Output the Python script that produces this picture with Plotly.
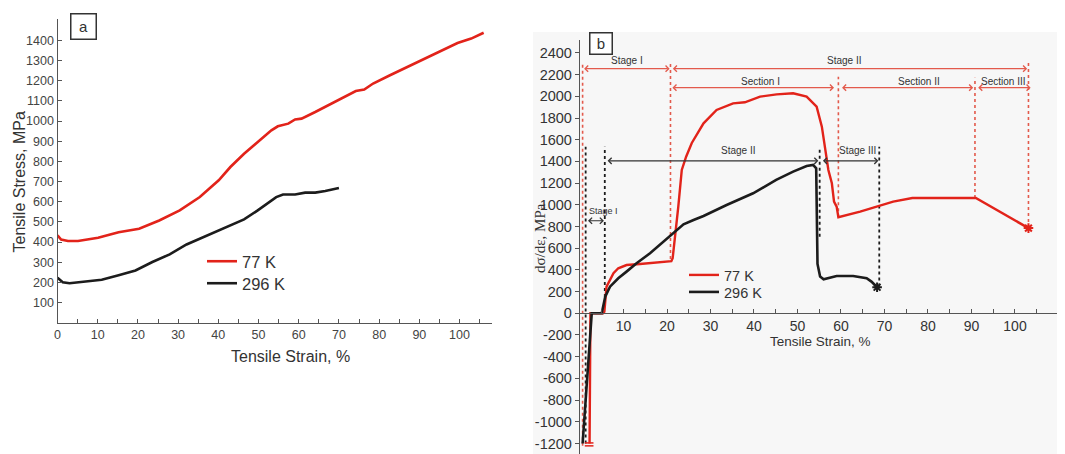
import plotly.graph_objects as go

# ---------------- Panel a: tensile stress vs strain ----------------
a77_x = [0.0, 0.9, 2.6, 5.1, 10.1, 15.2, 20.3, 25.3, 30.4, 35.4, 40.1, 43.0, 46.4, 50.2, 53.2, 54.8,
         57.4, 59.1, 60.7, 64.1, 70.0, 74.2, 76.3, 78.5, 82.7, 86.9, 91.1, 95.3, 99.5, 102.9, 106.0]
a77_y = [433, 412, 405, 405, 421, 449, 466, 507, 557, 623, 706, 772, 838, 904, 954, 974,
         987, 1008, 1012, 1045, 1108, 1149, 1156, 1186, 1227, 1268, 1305, 1346, 1387, 1409, 1438]
a296_x = [0.0, 1.3, 3.0, 6.8, 11.0, 15.2, 19.4, 23.6, 27.9, 32.1, 36.3, 40.5, 43.9, 46.4, 49.8,
          52.3, 54.4, 56.1, 59.1, 61.6, 64.1, 66.6, 70.0]
a296_y = [223, 201, 196, 205, 213, 235, 259, 301, 339, 388, 425, 462, 494, 512, 557,
          595, 623, 636, 636, 645, 645, 653, 668]

# ---------------- Panel b: strain hardening rate ----------------
b77_x = [2.2, 2.4, 5.3, 5.6, 6.1, 7.7, 8.8, 10.7, 13.8, 18.4, 21.0, 21.3, 21.8, 22.6, 23.4, 24.4,
         25.7, 28.4, 31.4, 35.2, 37.9, 41.4, 45.2, 49.0, 52.1, 54.4, 55.6, 56.3, 57.1, 57.9,
         58.4, 59.0, 59.4, 64.4, 72.0, 76.4, 91.0, 103.1]
b77_y = [-1200, 0, 0, 15, 245, 369, 415, 445, 454, 467, 480, 507, 676, 983, 1321, 1443,
         1570, 1751, 1874, 1935, 1945, 1997, 2018, 2028, 1997, 1904, 1720, 1536, 1321, 1198,
         1029, 983, 885, 937, 1029, 1062, 1062, 785]
b296_x = [0.6, 2.7, 5.0, 5.8, 6.9, 8.8, 10.7, 13.0, 16.1, 19.2, 22.2, 23.8, 26.1, 28.4, 33.7,
          39.8, 45.1, 49.0, 52.1, 53.6, 54.3, 54.5, 54.6, 55.2, 56.0, 59.0, 62.8, 65.9, 67.0, 68.3]
b296_y = [-1200, 0, 0, 153, 245, 323, 384, 461, 553, 661, 767, 820, 860, 897, 998,
          1106, 1229, 1306, 1358, 1367, 1337, 830, 455, 338, 313, 344, 344, 323, 292, 240]
cap_x = [1.1, 3.1]
cap_y = [-1195, -1222]

# stage boundaries (dashed verticals)
red_vx = [0.6, 20.8, 59.4, 90.8, 103.1]
red_vtop = [2300, 2320, 2180, 2170, 2320]
red_vbot = [-1220, 500, 885, 1062, 785]
blk_vx = [1.3, 5.7, 55.1, 68.8]
blk_vtop = [1535, 1535, 1535, 1535]
blk_vbot = [-1200, 150, 706, 246]

# double arrows: (start, end, level, label, label_x, label_y)
red_arrows = [
    (0.6, 20.6, 2255, "Stage I", 10.8, 2330),
    (21.0, 102.8, 2255, "Stage II", 60.6, 2330),
    (20.9, 58.4, 2080, "Section I", 41.5, 2135),
    (59.9, 90.4, 2080, "Section II", 78.0, 2135),
    (91.2, 103.6, 2080, "Section III", 97.3, 2140),
]
blk_arrows = [
    (6.0, 54.8, 1405, "Stage II", 36.4, 1496, 10),
    (55.5, 68.6, 1405, "Stage III", 63.8, 1500, 10),
    (1.5, 5.5, 853, "Stage I", 5.4, 940, 9),
]

a_xticks = list(range(0, 101, 10))
a_yticks = list(range(100, 1401, 100))
b_xticks = list(range(10, 111, 10))
b_yticks = list(range(-1200, 2401, 200))
b_yticklabels = [str(v) for v in b_yticks]

RED = "#e2231a"
BLK = "#1c1c1c"
RED_L = "#e35a4c"
FONT = "Liberation Sans, Arial, sans-serif"
OFF = 8            # page body margin of the html page
W, H = 1065 - OFF, 454 - OFF


def px(x):
    return (x - OFF) / W


def py(y):
    return 1 - (y - OFF) / H


fig = go.Figure()

# panel b background
fig.add_shape(type="rect", xref="paper", yref="paper", x0=px(533), x1=1, y0=0, y1=py(32),
              fillcolor="#f7f7f7", line=dict(width=0), layer="below")

# panel a traces
fig.add_trace(go.Scatter(x=a77_x, y=a77_y, mode="lines", name="77 K", line=dict(color=RED, width=2.6),
                         xaxis="x", yaxis="y", legend="legend"))
fig.add_trace(go.Scatter(x=a296_x, y=a296_y, mode="lines", name="296 K", line=dict(color=BLK, width=2.6),
                         xaxis="x", yaxis="y", legend="legend2"))

# panel b dashed verticals
rvx, rvy = [], []
for xv, t, b in zip(red_vx, red_vtop, red_vbot):
    rvx += [xv, xv, None]
    rvy += [b, t, None]
fig.add_trace(go.Scatter(x=rvx, y=rvy, mode="lines", line=dict(color=RED_L, width=1.6, dash="dot"),
                         xaxis="x2", yaxis="y2", showlegend=False, hoverinfo="skip"))
bvx, bvy = [], []
for xv, t, b in zip(blk_vx, blk_vtop, blk_vbot):
    bvx += [xv, xv, None]
    bvy += [b, t, None]
fig.add_trace(go.Scatter(x=bvx, y=bvy, mode="lines", line=dict(color=BLK, width=1.8, dash="dot"),
                         xaxis="x2", yaxis="y2", showlegend=False, hoverinfo="skip"))

# cap at bottom
cx, cy = [], []
for yv in cap_y:
    cx += [cap_x[0], cap_x[1], None]
    cy += [yv, yv, None]
fig.add_trace(go.Scatter(x=cx, y=cy, mode="lines", line=dict(color=RED, width=1.5),
                         xaxis="x2", yaxis="y2", showlegend=False, hoverinfo="skip"))

# panel b curves
fig.add_trace(go.Scatter(x=b77_x, y=b77_y, mode="lines", name="77 K", line=dict(color=RED, width=2.4),
                         xaxis="x2", yaxis="y2", legend="legend3"))
fig.add_trace(go.Scatter(x=b296_x, y=b296_y, mode="lines", name="296 K", line=dict(color=BLK, width=2.6),
                         xaxis="x2", yaxis="y2", legend="legend4"))
fig.add_trace(go.Scatter(x=[b77_x[-1]], y=[b77_y[-1]], mode="markers",
                         marker=dict(symbol="asterisk-open", size=8, color=RED, line=dict(color=RED, width=2)),
                         xaxis="x2", yaxis="y2", showlegend=False, hoverinfo="skip"))
fig.add_trace(go.Scatter(x=[b296_x[-1]], y=[b296_y[-1]], mode="markers",
                         marker=dict(symbol="asterisk-open", size=8, color=BLK, line=dict(color=BLK, width=2)),
                         xaxis="x2", yaxis="y2", showlegend=False, hoverinfo="skip"))

annotations = []
for x0, x1, yv, lab, lx, ly in red_arrows:
    annotations.append(dict(x=x1, y=yv, ax=x0, ay=yv, xref="x2", yref="y2", axref="x2", ayref="y2",
                            text="", showarrow=True, arrowside="end+start", arrowhead=4, startarrowhead=4,
                            arrowsize=1.0, startarrowsize=1.0, arrowwidth=1.2, arrowcolor=RED_L,
                            standoff=0, startstandoff=0))
    annotations.append(dict(x=lx, y=ly, xref="x2", yref="y2", text=lab, showarrow=False,
                            xanchor="center", yanchor="middle",
                            font=dict(size=10, color="#333", family=FONT)))
for x0, x1, yv, lab, lx, ly, fs in blk_arrows:
    annotations.append(dict(x=x1, y=yv, ax=x0, ay=yv, xref="x2", yref="y2", axref="x2", ayref="y2",
                            text="", showarrow=True, arrowside="end+start", arrowhead=4, startarrowhead=4,
                            arrowsize=1.0, startarrowsize=1.0, arrowwidth=1.2, arrowcolor="#333",
                            standoff=0, startstandoff=0))
    annotations.append(dict(x=lx, y=ly, xref="x2", yref="y2", text=lab, showarrow=False,
                            xanchor="center", yanchor="middle",
                            font=dict(size=fs, color="#333", family=FONT)))

# axis titles and panel tags
annotations += [
    dict(x=px(290), y=py(356), text="Tensile Strain, %",
         font=dict(size=16, color="#333", family=FONT)),
    dict(x=px(18.5), y=py(182), text="Tensile Stress, MPa", textangle=-90,
         font=dict(size=16, color="#333", family=FONT)),
    dict(x=px(820), y=py(341), text="Tensile Strain, %",
         font=dict(size=13.5, color="#333", family=FONT)),
    dict(x=px(540), y=py(238), text="dσ/dε, MPa", textangle=-90,
         font=dict(size=15, color="#333", family="Liberation Serif, Times New Roman, serif")),
    dict(x=px(83.5), y=py(26.5), text="a", bordercolor="#333", borderwidth=1.5, width=22, height=22,
         bgcolor="white", font=dict(size=15, color="#333", family=FONT)),
    dict(x=px(601), y=py(43), text="b", bordercolor="#333", borderwidth=1.5, width=19, height=18,
         bgcolor="white", font=dict(size=15, color="#333", family=FONT)),
]
for an in annotations[-6:]:
    an.update(xref="paper", yref="paper", showarrow=False, xanchor="center", yanchor="middle")

axis_common = dict(showgrid=False, zeroline=False, showline=True, linecolor="#555", linewidth=1.3,
                   tickcolor="#555", tickwidth=1.2, automargin=False)


def leg(xs, ytop, size):
    return dict(x=px(xs), y=py(ytop), xanchor="left", yanchor="top", bgcolor="rgba(0,0,0,0)",
                font=dict(size=size, color="#333", family=FONT), tracegroupgap=0)


fig.update_layout(
    width=W, height=H, margin=dict(l=0, r=0, t=0, b=0, autoexpand=False),
    paper_bgcolor="white", plot_bgcolor="rgba(0,0,0,0)",
    font=dict(family=FONT, color="#333"),
    xaxis=dict(domain=[px(57.5), px(491.7)], range=[0, 108], anchor="y", tickmode="array",
               tickvals=a_xticks, ticks="inside", ticklen=4,
               minor=dict(dtick=5, tick0=0, ticks="inside", ticklen=4, tickcolor="#555"),
               tickfont=dict(size=12.5, color="#444"), **axis_common),
    yaxis=dict(domain=[py(322.7), py(19)], range=[0, 1506], anchor="x", tickmode="array",
               tickvals=a_yticks, ticks="inside", ticklen=4,
               tickfont=dict(size=12.5, color="#444"), **axis_common),
    xaxis2=dict(domain=[px(580), 1.0], range=[0, 111.5], anchor="free", position=py(313.3),
                tickmode="array", tickvals=b_xticks, ticks="inside", ticklen=4,
                minor=dict(dtick=5, tick0=0, ticks="inside", ticklen=4, tickcolor="#555"),
                tickfont=dict(size=14, color="#333"), **axis_common),
    yaxis2=dict(domain=[0, py(40)], range=[-1297, 2519], anchor="x2", tickmode="array",
                tickvals=b_yticks, ticktext=b_yticklabels, ticks="outside", ticklen=4,
                tickfont=dict(size=14.5, color="#333"), **axis_common),
    legend=leg(202, 244, 16.5),
    legend2=leg(202, 266, 16.5),
    legend3=leg(684, 259, 14.5),
    legend4=leg(684, 276, 14.5),
    annotations=annotations,
    showlegend=True,
)

fig.write_html("out.html")
